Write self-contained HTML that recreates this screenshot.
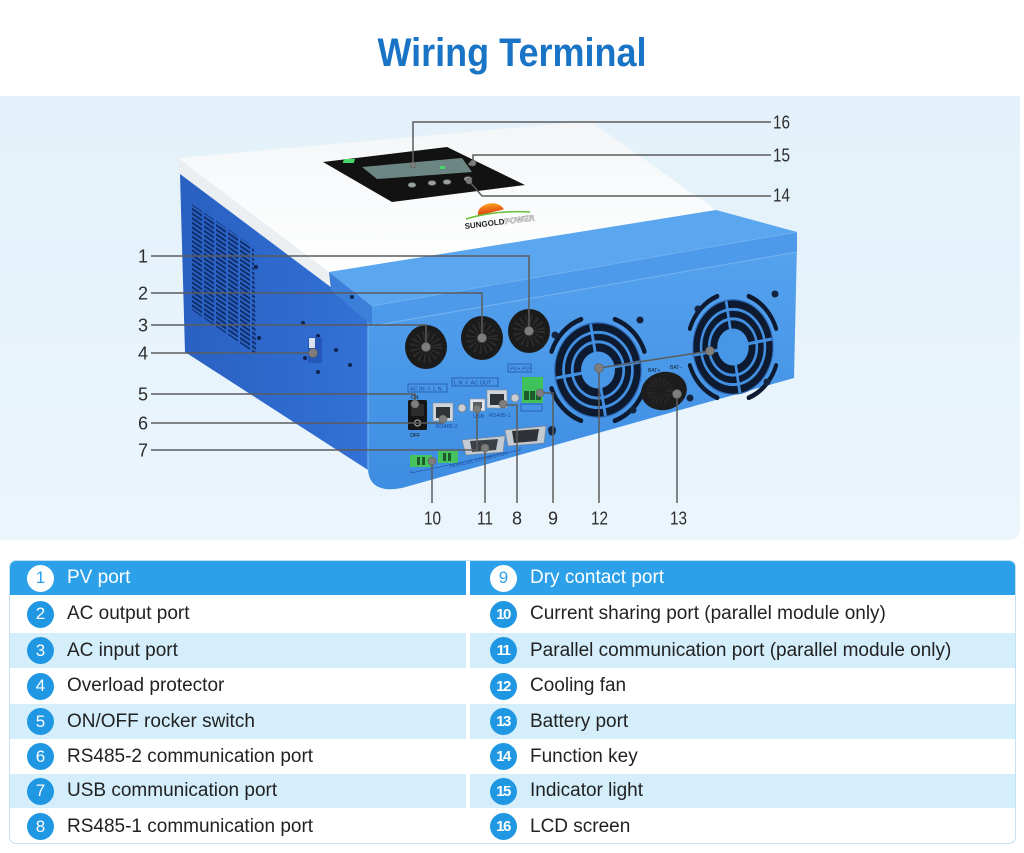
<!DOCTYPE html>
<html><head><meta charset="utf-8">
<style>
*{margin:0;padding:0;box-sizing:border-box}
body{width:1024px;height:853px;position:relative;background:#fff;overflow:hidden;font-family:"Liberation Sans",Arial,sans-serif}
.title{position:absolute;left:0;top:33px;width:1024px;text-align:center;font-weight:bold;font-size:40px;line-height:40px;color:#1a74c6;transform:scaleX(0.9)}
.panel{position:absolute;left:0;top:96px;width:1020px;height:444px;background:linear-gradient(#e3f1fa,#ebf5fc);border-bottom-right-radius:10px}
.tbl{position:absolute;left:9px;top:560px;width:1007px;height:284px;border:1px solid #c3e1f2;border-radius:7px;overflow:hidden;background:#fff}
.row{position:absolute;left:0;width:1007px}
.cell{position:absolute;top:0;height:100%;display:flex;align-items:center;font-size:19px;color:#222}
.cl{left:0;width:456px}
.cr{left:460px;width:547px}
.hdr .cell{background:#2ca1e9;color:#fff}
.lt .cell{background:#d4eefb}
.n{width:27px;height:27px;border-radius:50%;background:#1f97e3;color:#fff;display:flex;align-items:center;justify-content:center;font-size:17px;margin-right:13px;flex:none}
.cl .n{margin-left:17px}
.cr .n{margin-left:20px}
.n2{font-size:15px;font-weight:bold;letter-spacing:-1.5px;padding-right:1px}
.hdr .n{background:#fff;color:#2ca1e9}
</style></head><body>
<div class="title">Wiring Terminal</div>
<div class="panel"></div>

<svg width="1024" height="540" viewBox="0 0 1024 540" style="position:absolute;left:0;top:0" font-family="Liberation Sans, Arial, sans-serif">
<defs>
 <linearGradient id="lf" x1="0" y1="0" x2="1" y2="0"><stop offset="0" stop-color="#2960c2"/><stop offset="1" stop-color="#3372d6"/></linearGradient>
 <linearGradient id="ff" x1="0" y1="0" x2="0" y2="1"><stop offset="0" stop-color="#55a2ee"/><stop offset="1" stop-color="#3e8de2"/></linearGradient>
 <linearGradient id="wt" x1="0" y1="0" x2="0" y2="1"><stop offset="0" stop-color="#f3f6f8"/><stop offset="1" stop-color="#ffffff"/></linearGradient>
 <linearGradient id="sun" x1="0" y1="0" x2="0" y2="1"><stop offset="0" stop-color="#f7a21b"/><stop offset="1" stop-color="#e23a12"/></linearGradient>
 <pattern id="vent" width="12" height="4.6" patternUnits="userSpaceOnUse" patternTransform="skewY(34)"><rect x="0" y="0" width="10" height="2.4" fill="#102d6c"/></pattern>
 <g id="fan">
  <g fill="none" stroke="#0e1a30" stroke-width="4.5" stroke-linecap="round">
   <path d="M-47.9,-17.4 A51,51 0 0 1 -17.4,-47.9"/>
   <path d="M17.4,-47.9 A51,51 0 0 1 47.9,-17.4"/>
   <path d="M47.9,17.4 A51,51 0 0 1 17.4,47.9"/>
   <path d="M-17.4,47.9 A51,51 0 0 1 -47.9,17.4"/>
  </g>
  <circle r="45" fill="#0e1a30"/>
  <g fill="none" stroke="#428fe2" stroke-width="2.8">
   <circle r="35.5"/><circle r="26.5"/>
  </g>
  <circle r="17.5" fill="#4896e6"/>
  <g stroke="#428fe2" stroke-width="3">
   <line x1="0" y1="-17" x2="0" y2="-44" transform="rotate(-10)"/>
   <line x1="0" y1="-17" x2="0" y2="-44" transform="rotate(80)"/>
   <line x1="0" y1="-17" x2="0" y2="-44" transform="rotate(170)"/>
   <line x1="0" y1="-17" x2="0" y2="-44" transform="rotate(260)"/>
  </g>
  <circle r="44.5" fill="none" stroke="#2f6fc4" stroke-width="1"/>
 </g>
</defs>

<!-- white top -->
<polygon points="178,158 590,121 716,210 329,272" fill="url(#wt)"/>
<polygon points="178,158 329,272 331,288 180,174" fill="#eceff2"/>
<!-- left face -->
<polygon points="180,174 372,318 368,470 185,352" fill="url(#lf)"/>
<polygon points="190,203 254,247 256,354 192,310" fill="url(#vent)"/>
<g fill="#0f2450">
 <circle cx="256" cy="267" r="2"/><circle cx="259" cy="338" r="2"/><circle cx="352" cy="297" r="2"/>
 <circle cx="303" cy="323" r="2"/><circle cx="318" cy="336" r="2"/><circle cx="305" cy="358" r="2"/>
 <circle cx="318" cy="372" r="2"/><circle cx="336" cy="350" r="2"/><circle cx="350" cy="365" r="2"/>
</g>
<rect x="308" y="337" width="14" height="26" rx="2" fill="#2557b8"/>
<rect x="309" y="338" width="6" height="10" fill="#d8e2f0"/>

<!-- front face -->
<path d="M368,318 L797,244 L794,378 L402,488 Q370,494 368,470 Z" fill="url(#ff)"/>
<line x1="368" y1="318" x2="368" y2="470" stroke="#7ab6f0" stroke-width="1"/>
<!-- lid -->
<polygon points="329,272 716,210 797,232 372,306" fill="#5aa6ef"/>
<polygon points="329,272 372,306 372,326 331,290" fill="#3c7fd9"/>
<polygon points="372,306 797,232 797,252 372,326" fill="#4d9aea"/>
<line x1="372" y1="326" x2="797" y2="252" stroke="#74b4f2" stroke-width="1"/>
<line x1="372" y1="306" x2="797" y2="232" stroke="#6eb0f1" stroke-width="1"/>
<circle cx="352" cy="297" r="2" fill="#0f2450"/>

<!-- LCD -->
<polygon points="323,162 447,147 525,185 392,202" fill="#121212"/>
<polygon points="362,167 462,158 472,172 377,179" fill="#6c8783"/>
<rect x="402" y="159" width="11" height="4" fill="#47d86a" transform="skewX(-20)" />
<rect x="440" y="166" width="5" height="3" fill="#47d86a"/>
<g fill="#9aa1a3" stroke="#555" stroke-width="0.6">
 <ellipse cx="412" cy="185" rx="4" ry="2.5"/><ellipse cx="432" cy="183" rx="4" ry="2.5"/>
 <ellipse cx="447" cy="182" rx="4" ry="2.5"/><ellipse cx="468" cy="179" rx="4" ry="2.5"/>
 <ellipse cx="472" cy="164" rx="3.5" ry="2"/>
</g>
<!-- logo -->
<path d="M478,214 A13,9 0 0 1 504,211 Z" fill="url(#sun)" transform="rotate(-7 491 212)"/>
<path d="M466,219 Q495,210 530,212" stroke="#6cbf3a" stroke-width="1.5" fill="none"/>
<text x="465" y="229" font-size="8" font-weight="bold" fill="#222" transform="rotate(-7 465 229)">SUNGOLD<tspan fill="#fff" stroke="#777" stroke-width="0.4">POWER</tspan></text>

<!-- glands -->
<g>
 <ellipse cx="426" cy="347" rx="21" ry="22" fill="#1b1b1b"/>
 <circle cx="426" cy="347" r="10" fill="none" stroke="#2c2c2c" stroke-width="12" stroke-dasharray="1.5 2.5"/>
 <ellipse cx="482" cy="338" rx="21" ry="22" fill="#1b1b1b"/>
 <circle cx="482" cy="338" r="10" fill="none" stroke="#2c2c2c" stroke-width="12" stroke-dasharray="1.5 2.5"/>
 <ellipse cx="529" cy="331" rx="21" ry="22" fill="#1b1b1b"/>
 <circle cx="529" cy="331" r="10" fill="none" stroke="#2c2c2c" stroke-width="12" stroke-dasharray="1.5 2.5"/>
</g>
<g fill="none" stroke="#2456a6" stroke-width="0.8">
 <rect x="408" y="384" width="39" height="8"/>
 <rect x="452" y="378" width="46" height="8"/>
 <rect x="508" y="364" width="23" height="8"/>
 <rect x="521" y="404" width="21" height="7"/>
</g>
<g font-size="5.5" fill="#1d4c9c">
 <text x="410" y="390.5">AC IN ⏚ L N</text>
 <text x="454" y="384.5">L N ⏚ AC OUT</text>
 <text x="510" y="370.5">PV+ PV−</text>
 <text x="436" y="428">RS485-2</text>
 <text x="489" y="417">RS485-1</text>
 <text x="473" y="418">USB</text>
</g>
<!-- switch -->
<rect x="408" y="400" width="19" height="30" rx="1.5" fill="#151515"/>
<rect x="411" y="404" width="13" height="12" fill="#2c2c2c"/>
<circle cx="417.5" cy="423" r="3" fill="none" stroke="#bbb" stroke-width="1"/>
<text x="411" y="399" font-size="5" fill="#111">ON</text>
<text x="410" y="437" font-size="5" fill="#111">OFF</text>
<!-- RJ45 / USB -->
<rect x="433" y="403" width="20" height="18" fill="#cfd5dc" stroke="#8a9098" stroke-width="0.6"/>
<rect x="436" y="407" width="14" height="11" fill="#2f3338"/>
<rect x="487" y="390" width="20" height="18" fill="#cfd5dc" stroke="#8a9098" stroke-width="0.6"/>
<rect x="490" y="394" width="14" height="11" fill="#2f3338"/>
<rect x="470" y="399" width="15" height="12" fill="#e1e5ea" stroke="#8a9098" stroke-width="0.6"/>
<rect x="473" y="402" width="9" height="6" fill="#5a5f66"/>
<circle cx="462" cy="408" r="4" fill="#c9ced4" stroke="#7d838a" stroke-width="0.8"/>
<circle cx="515" cy="398" r="4" fill="#c9ced4" stroke="#7d838a" stroke-width="0.8"/>
<!-- dry contact terminal -->
<rect x="522" y="377" width="21" height="26" fill="#3fc25a"/>
<g fill="#1e5a2c"><rect x="524" y="391" width="5" height="9"/><rect x="530" y="391" width="5" height="9"/><rect x="536" y="391" width="5" height="9"/></g>
<!-- DB9 / VGA -->
<path d="M462,440 L505,436 L503,452 L466,455 Z" fill="#c4cad1" stroke="#7d838a" stroke-width="0.6"/>
<path d="M470,441 L498,439 L496,450 L472,452 Z" fill="#3b4047"/>
<path d="M505,430 L546,426 L544,443 L508,446 Z" fill="#c4cad1" stroke="#7d838a" stroke-width="0.6"/>
<path d="M512,431 L539,429 L537,441 L514,443 Z" fill="#2f3338"/>
<circle cx="552" cy="430" r="4" fill="#16284a"/>
<!-- parallel terminals -->
<rect x="410" y="455" width="22" height="12" fill="#46c35c"/>
<rect x="438" y="451" width="20" height="12" fill="#46c35c"/>
<g fill="#1e5a2c"><rect x="417" y="457" width="3" height="8"/><rect x="422" y="457" width="3" height="8"/><rect x="443" y="453" width="3" height="8"/><rect x="448" y="453" width="3" height="8"/></g>
<text x="450" y="468" font-size="5" fill="#1d4c9c" transform="rotate(-13 450 468)">PARALLEL CONNECTION</text>
<path d="M411,470 L411,473 L520,450 L520,447" fill="none" stroke="#2456a6" stroke-width="0.7"/>

<!-- fans -->
<use href="#fan" transform="translate(598,370) scale(0.97,1.06)"/>
<use href="#fan" transform="translate(733,347) scale(0.9,1.06)"/>
<g fill="#14243f">
 <circle cx="640" cy="320" r="3.5"/><circle cx="555" cy="335" r="3.5"/><circle cx="633" cy="410" r="3.5"/><circle cx="552" cy="432" r="3.5"/>
 <circle cx="698" cy="309" r="3.5"/><circle cx="775" cy="294" r="3.5"/><circle cx="767" cy="382" r="3.5"/><circle cx="690" cy="398" r="3.5"/>
</g>
<!-- battery port -->
<ellipse cx="664" cy="391" rx="23" ry="19" fill="#1d1d1d" transform="rotate(-12 664 391)"/>
<circle cx="660" cy="391" r="9" fill="none" stroke="#292929" stroke-width="8" stroke-dasharray="1.2 2"/>
<text x="648" y="372" font-size="5" fill="#123">BAT+</text>
<text x="670" y="369" font-size="5" fill="#123">BAT−</text>

<!-- callout lines -->
<g fill="none" stroke="#5c5c5c" stroke-width="1.5">
 <path d="M151,256 H529 V331"/>
 <path d="M151,293 H482 V338"/>
 <path d="M151,325 H426 V347"/>
 <path d="M151,353 H313"/>
 <path d="M151,394 H415 V403"/>
 <path d="M151,423 H443 V419"/>
 <path d="M151,450 H477 V409"/>
 <path d="M432,503 V462"/>
 <path d="M485,503 V448"/>
 <path d="M517,503 V405 H504"/>
 <path d="M553,503 V393 H540"/>
 <path d="M599,503 V368 L710,351"/>
 <path d="M677,503 V394"/>
 <path d="M771,122 H413 V165"/>
 <path d="M771,155 H473 V163"/>
 <path d="M771,196 H482 L469,181"/>
</g>
<g fill="#7d7d7d" stroke="#5a5a5a" stroke-width="0.6">
 <circle cx="529" cy="331" r="4.5"/><circle cx="482" cy="338" r="4.5"/><circle cx="426" cy="347" r="4.5"/>
 <circle cx="313" cy="353" r="4.5"/><circle cx="415" cy="404" r="4"/><circle cx="443" cy="419" r="4"/>
 <circle cx="477" cy="409" r="4"/><circle cx="432" cy="461" r="4"/><circle cx="485" cy="448" r="4"/>
 <circle cx="503" cy="404" r="4"/><circle cx="540" cy="393" r="4"/><circle cx="599" cy="368" r="4.5"/>
 <circle cx="710" cy="351" r="4.5"/><circle cx="677" cy="394" r="4.5"/><circle cx="413" cy="165" r="3"/>
 <circle cx="473" cy="163" r="3"/><circle cx="469" cy="181" r="3"/>
</g>
<!-- labels -->
<g font-size="18" fill="#2e2e2e" text-anchor="end">
 <text x="148" y="262.5">1</text>
 <text x="148" y="299.5">2</text>
 <text x="148" y="331.5">3</text>
 <text x="148" y="359.5">4</text>
 <text x="148" y="400.5">5</text>
 <text x="148" y="429.5">6</text>
 <text x="148" y="456.5">7</text>
</g>
<g font-size="18" fill="#2e2e2e">
 <text x="773" y="128.5" textLength="17" lengthAdjust="spacingAndGlyphs">16</text>
 <text x="773" y="161.5" textLength="17" lengthAdjust="spacingAndGlyphs">15</text>
 <text x="773" y="201.5" textLength="17" lengthAdjust="spacingAndGlyphs">14</text>
 <text x="424" y="524.5" textLength="17" lengthAdjust="spacingAndGlyphs">10</text>
 <text x="477" y="524.5" textLength="16" lengthAdjust="spacingAndGlyphs">11</text>
 <text x="512" y="524.5">8</text>
 <text x="548" y="524.5">9</text>
 <text x="591" y="524.5" textLength="17" lengthAdjust="spacingAndGlyphs">12</text>
 <text x="670" y="524.5" textLength="17" lengthAdjust="spacingAndGlyphs">13</text>
</g>
</svg>

<div class="tbl">
 <div class="row hdr" style="top:0;height:34px">
  <div class="cell cl"><span class="n">1</span>PV port</div>
  <div class="cell cr"><span class="n">9</span>Dry contact port</div>
 </div>
 <div class="row" style="top:34px;height:38px">
  <div class="cell cl"><span class="n">2</span>AC output port</div>
  <div class="cell cr"><span class="n n2">10</span>Current sharing port (parallel module only)</div>
 </div>
 <div class="row lt" style="top:72px;height:35px">
  <div class="cell cl"><span class="n">3</span>AC input port</div>
  <div class="cell cr"><span class="n n2">11</span>Parallel communication port (parallel module only)</div>
 </div>
 <div class="row" style="top:107px;height:36px">
  <div class="cell cl"><span class="n">4</span>Overload protector</div>
  <div class="cell cr"><span class="n n2">12</span>Cooling fan</div>
 </div>
 <div class="row lt" style="top:143px;height:35px">
  <div class="cell cl"><span class="n">5</span>ON/OFF rocker switch</div>
  <div class="cell cr"><span class="n n2">13</span>Battery port</div>
 </div>
 <div class="row" style="top:178px;height:35px">
  <div class="cell cl"><span class="n">6</span>RS485-2 communication port</div>
  <div class="cell cr"><span class="n n2">14</span>Function key</div>
 </div>
 <div class="row lt" style="top:213px;height:34px">
  <div class="cell cl"><span class="n">7</span>USB communication port</div>
  <div class="cell cr"><span class="n n2">15</span>Indicator light</div>
 </div>
 <div class="row" style="top:247px;height:37px">
  <div class="cell cl"><span class="n">8</span>RS485-1 communication port</div>
  <div class="cell cr"><span class="n n2">16</span>LCD screen</div>
 </div>
</div>
</body></html>
